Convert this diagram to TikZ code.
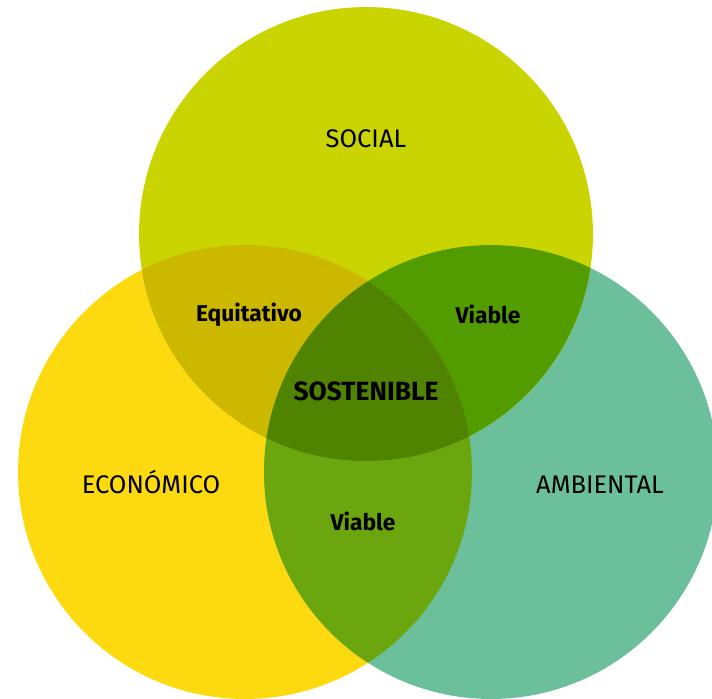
\documentclass[tikz,border=0pt]{standalone}
\usepackage{fontspec}
\setmainfont{Fira Sans}
\usepackage{xcolor}
\definecolor{social}{RGB}{201,212,0}
\definecolor{econ}{RGB}{253,218,16}
\definecolor{amb}{RGB}{108,191,155}
\definecolor{socecon}{RGB}{205,184,0}
\definecolor{socamb}{RGB}{82,156,0}
\definecolor{econamb}{RGB}{108,166,14}
\definecolor{sost}{RGB}{80,132,0}

\begin{document}
\begin{tikzpicture}[x=0.02cm,y=-0.02cm,
  lbl/.style={font=\fontsize{14.5}{17}\selectfont},
  blbl/.style={font=\fontsize{13}{15}\selectfont\bfseries}]
\useasboundingbox (0,0) rectangle (712,698);
\clip (0,0) rectangle (712,698);

% circles
\fill[econ] (245,472) circle (4.54cm);
\fill[amb] (491,472) circle (4.54cm);
\fill[social] (366,234) circle (4.54cm);

% overlaps
\begin{scope}
\clip (366,234) circle (4.54cm);
\fill[socecon] (245,472) circle (4.54cm);
\fill[socamb] (491,472) circle (4.54cm);
\end{scope}
\begin{scope}
\clip (245,472) circle (4.54cm);
\fill[econamb] (491,472) circle (4.54cm);
\end{scope}
\begin{scope}
\clip (366,234) circle (4.54cm);
\clip (245,472) circle (4.54cm);
\fill[sost] (491,472) circle (4.54cm);
\end{scope}

% labels
\node [lbl] (soc) at (366,139) {SOCIAL};
\node [lbl] (eco) at (151,482) {ECONÓMICO};
\node [lbl] (amb) at (600,485) {AMBIENTAL};
\node [blbl] (equi) at (249,315) {Equitativo};
\node [blbl] (via1) at (488,314) {Viable};
\node [blbl] (via2) at (363,521) {Viable};
\node [blbl,font=\fontsize{15}{17}\selectfont\bfseries] (sos) at (366,391) {SOSTENIBLE};
\end{tikzpicture}
\end{document}
